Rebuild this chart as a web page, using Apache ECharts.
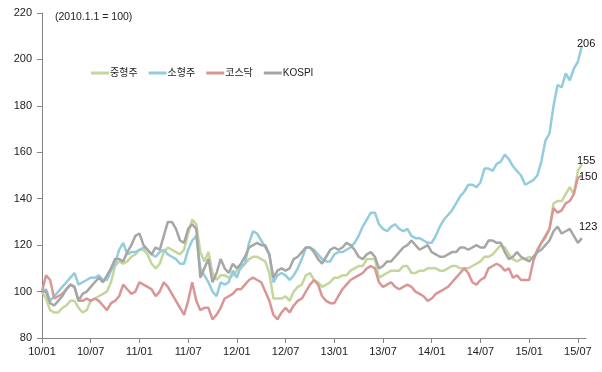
<!DOCTYPE html>
<html>
<head>
<meta charset="utf-8">
<script src="https://cdn.jsdelivr.net/npm/echarts@6/dist/echarts.min.js"></script>
<style>html,body{margin:0;padding:0;background:#fff;}#c{width:602px;height:372px;}</style>
</head>
<body>
<div id="c"></div>
<script>
// Half-month sample points from 2010/01 to 2015/07 (index 0 = 2010.1.1)
const seriesNames = ['중형주', '소형주', '코스닥', 'KOSPI'];
const tickMonths = [0, 6, 12, 18, 24, 30, 36, 42, 48, 54, 60, 66];
const yTicks = [80, 100, 120, 140, 160, 180, 200, 220];

const midCap = [100,97,92,91,91,93,94,96,96,93,
 91,92,96,97,98,99,100,104,111,113,
 112,113,115,116,118,118,116,112,110,112,
 117,119,118,117,116,118,125,131,129,117,
 113,117,108,105,107,107,106,107,109,110,
 112,114,115,115,114,113,108,97,97,97,
 98,96,100,102,103,107,108,105,104,102,
 103,104,106,106,107,107,109,110,111,111,
 114,114,114,106,107,108,109,109,109,111,
 111,108,108,109,109,110,110,110,109,109,
 110,111,111,110,110,110,111,112,113,115,
 115,116,118,120,119,116,114,113,114,114,
 115,114,117,121,123,127,138,139,139,142,
 145,142,152,155];

const smallCap = [100,101,96,98,100,102,104,106,108,103,
 104,105,106,106,107,105,105,109,112,118,
 121,116,117,117,118,119,118,116,115,117,
 118,116,115,114,112,112,118,122,124,110,
 107,104,100,98,104,103,104,109,106,111,
 112,121,126,125,122,119,116,104,107,108,
 107,105,107,110,114,119,119,118,116,114,
 113,113,116,117,117,118,119,121,124,128,
 131,134,134,129,127,126,128,129,127,126,
 127,124,123,123,122,121,121,124,128,131,
 133,135,138,141,143,146,146,145,147,153,
 153,152,155,156,159,157,154,152,150,146,
 147,148,150,156,165,168,180,189,188,194,
 191,196,199,206];

const kosdaq = [100,107,105,97,98,99,101,103,102,96,
 96,97,96,97,96,94,92,95,96,98,
 103,101,99,100,104,103,102,101,98,100,
 104,102,99,96,93,90,96,104,96,92,
 93,93,88,90,93,97,98,99,101,101,
 103,105,106,105,104,100,96,90,88,91,
 93,91,94,96,97,100,103,105,103,98,
 96,95,95,98,101,103,105,106,107,108,
 110,111,110,104,102,103,104,102,101,102,
 103,102,100,99,98,96,97,99,100,101,
 102,104,106,108,110,108,104,103,105,106,
 110,111,112,111,109,110,106,107,105,105,
 105,113,118,121,124,127,136,134,135,138,
 139,142,149,150];

const kospi = [100,100,95,94,96,98,101,103,102,96,
 99,100,102,104,106,104,107,110,114,114,
 113,117,120,124,125,120,118,116,119,118,
 124,130,130,127,122,121,127,129,127,106,
 110,114,104,108,114,110,108,112,110,112,
 115,119,120,121,120,120,116,106,109,110,
 109,110,114,115,117,119,119,117,114,112,
 115,118,119,118,119,121,120,118,115,114,
 116,117,115,110,111,113,113,115,117,119,
 120,122,120,118,119,120,117,116,115,115,
 116,117,117,119,119,118,119,120,119,119,
 122,122,121,121,117,114,115,117,115,114,
 113,115,117,118,120,122,126,128,125,126,
 127,124,121,123];

const colors = ['#C3D69B', '#93CDDD', '#D99694', '#A6A6A6'];
const endOffsets = [[-10, -3], [-10, -2], [-8, 1], [-8, -11]];
const values = [midCap, smallCap, kosdaq, kospi];

const pairs = (arr) => arr.map((v, i) => [i * 0.5, v]);
const fmtMonth = (v) => {
  const y = 10 + Math.floor(v / 12);
  const m = (v % 12) + 1;
  return String(y).padStart(2, '0') + '/' + String(m).padStart(2, '0');
};

const chart = echarts.init(document.getElementById('c'), null, {renderer: 'canvas'});
chart.setOption({
  animation: false,
  backgroundColor: '#fff',
  color: colors,
  grid: {left: 42, right: 16, top: 13, bottom: 34, containLabel: false},
  legend: {
    data: seriesNames,
    left: 86, top: 63,
    icon: 'rect', itemWidth: 18, itemHeight: 3, itemGap: 11,
    textStyle: {fontSize: 10, color: '#222', fontFamily: 'Liberation Sans, "Noto Sans CJK KR", sans-serif', padding: [0, 0, 0, -4]}
  },
  graphic: [{
    type: 'text', left: 55, top: 12,
    style: {text: '(2010.1.1 = 100)', fontSize: 10.5, fill: '#222', fontFamily: 'Liberation Sans, sans-serif'}
  }],
  xAxis: {
    type: 'value', min: 0, max: 67,
    axisLine: {lineStyle: {color: '#868686', width: 1}},
    axisTick: {show: true, length: 5, customValues: tickMonths, lineStyle: {color: '#868686'}},
    axisLabel: {customValues: tickMonths, formatter: fmtMonth, fontSize: 11, color: '#222', margin: 8, fontFamily: 'Liberation Sans, sans-serif'},
    splitLine: {show: false}
  },
  yAxis: {
    type: 'value', min: 80, max: 220, interval: 20,
    axisLine: {show: true, lineStyle: {color: '#868686', width: 1}},
    axisTick: {show: true, length: 5, lineStyle: {color: '#868686'}},
    axisLabel: {fontSize: 11, color: '#222', margin: 10, fontFamily: 'Liberation Sans, sans-serif',
      formatter: (v) => yTicks.includes(v) ? String(v) : ''},
    splitLine: {show: false}
  },
  series: seriesNames.map((name, k) => ({
    name, type: 'line', data: pairs(values[k]), showSymbol: false, symbol: 'none',
    lineStyle: {width: 2.5, color: colors[k]},
    itemStyle: {color: colors[k]},
    z: 2 + k,
    endLabel: {
      show: true, formatter: (p) => String(p.value[1]),
      fontSize: 11, color: '#111', fontFamily: 'Liberation Sans, sans-serif',
      offset: endOffsets[k], distance: 5
    }
  }))
});
</script>
</body>
</html>
